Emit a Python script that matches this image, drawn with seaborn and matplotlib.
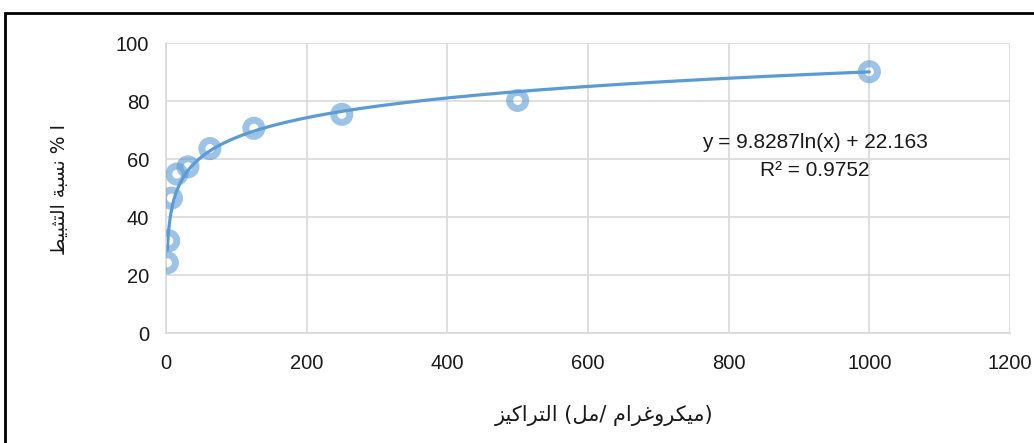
import numpy as np
import pandas as pd
import matplotlib
matplotlib.use("Agg")
import matplotlib.pyplot as plt
from matplotlib.patches import Rectangle
import seaborn as sns

# Concentration (µg/mL) and inhibition (%)
concentration = [1.95, 3.9, 7.8, 15.6, 31.25, 62.5, 125, 250, 500, 1000]
inhibition = [24.2, 31.8, 46.5, 54.8, 57.3, 63.6, 70.6, 75.4, 80.2, 90.1]

# Logarithmic trendline coefficients
slope = 9.8287
intercept = 22.163
r_squared = 0.9752

x_ticks = [0, 200, 400, 600, 800, 1000, 1200]
y_ticks = [0, 20, 40, 60, 80, 100]

# --- minimal Arabic shaping into presentation forms (visual order) ---
FORMS = {  # isolated, final, initial, medial
    "ا": ("\uFE8D", "\uFE8E", None, None),
    "ب": ("\uFE8F", "\uFE90", "\uFE91", "\uFE92"),
    "ة": ("\uFE93", "\uFE94", None, None),
    "ت": ("\uFE95", "\uFE96", "\uFE97", "\uFE98"),
    "ث": ("\uFE99", "\uFE9A", "\uFE9B", "\uFE9C"),
    "ر": ("\uFEAD", "\uFEAE", None, None),
    "ز": ("\uFEAF", "\uFEB0", None, None),
    "س": ("\uFEB1", "\uFEB2", "\uFEB3", "\uFEB4"),
    "ط": ("\uFEC1", "\uFEC2", "\uFEC3", "\uFEC4"),
    "غ": ("\uFECD", "\uFECE", "\uFECF", "\uFED0"),
    "ك": ("\uFED9", "\uFEDA", "\uFEDB", "\uFEDC"),
    "ل": ("\uFEDD", "\uFEDE", "\uFEDF", "\uFEE0"),
    "م": ("\uFEE1", "\uFEE2", "\uFEE3", "\uFEE4"),
    "ن": ("\uFEE5", "\uFEE6", "\uFEE7", "\uFEE8"),
    "و": ("\uFEED", "\uFEEE", None, None),
    "ي": ("\uFEF1", "\uFEF2", "\uFEF3", "\uFEF4"),
}


def shape(word):
    out = []
    n = len(word)
    for i, ch in enumerate(word):
        iso, fin, ini, med = FORMS[ch]
        prev_joins = i > 0 and FORMS[word[i - 1]][2] is not None
        next_joins = i < n - 1 and ini is not None
        if prev_joins and next_joins:
            out.append(med)
        elif prev_joins:
            out.append(fin)
        elif next_joins:
            out.append(ini)
        else:
            out.append(iso)
    return "".join(reversed(out))


# labels laid out left-to-right in display order
x_label = shape("التراكيز") + " (" + shape("مل") + "/ " + shape("ميكروغرام") + ")"
y_label = shape("التثبيط") + " " + shape("نسبة") + " % I"

df = pd.DataFrame({"conc": concentration, "inh": inhibition})
x_fit = np.geomspace(min(concentration), max(concentration), 400)
fit = pd.DataFrame({"conc": x_fit, "inh": slope * np.log(x_fit) + intercept})

sns.set_theme(style="whitegrid")
plt.rcParams["font.family"] = ["Liberation Sans", "DejaVu Sans"]

fig = plt.figure(figsize=(10.34, 4.43), dpi=100)
ax = fig.add_axes([0.1605, 0.2483, 0.8163, 0.6546])

blue = "#5B9BD5"
sns.lineplot(data=fit, x="conc", y="inh", ax=ax, color=blue, linewidth=2.3, zorder=2)
sns.scatterplot(data=df, x="conc", y="inh", ax=ax, s=135, facecolor="none",
                edgecolor=blue, linewidth=5.0, alpha=0.6, zorder=3)

ax.set_xlim(0, 1200)
ax.set_ylim(0, 100)
ax.set_xticks(x_ticks)
ax.set_yticks(y_ticks)
ax.tick_params(axis="both", length=0, labelsize=14.5, colors="#1a1a1a")
ax.tick_params(axis="x", pad=15)
ax.tick_params(axis="y", pad=12)
ax.grid(True, color="#D9D9D9", linewidth=1.2)
for side in ["top", "right"]:
    ax.spines[side].set_visible(False)
for side in ["left", "bottom"]:
    ax.spines[side].set_color("#D9D9D9")
    ax.spines[side].set_linewidth(1.2)
ax.set_facecolor("white")

ax.set_xlabel("")
ax.set_ylabel("")
fig.text(0.584, 0.062, x_label, ha="center", va="center", fontsize=15,
         family="DejaVu Sans", color="#1a1a1a")
fig.text(0.058, 0.573, y_label, ha="center", va="center", fontsize=13.5,
         rotation=90, family="DejaVu Sans", color="#1a1a1a")

ax.text(922, 65.8, f"y = {slope}ln(x) + {intercept}", ha="center", va="center",
        fontsize=15, color="#1a1a1a")
ax.text(922, 56.0, f"R² = {r_squared}", ha="center", va="center",
        fontsize=15, color="#1a1a1a")

# outer chart frame
fig.patches.append(Rectangle((0.005, -0.05), 1.2, 1.0207, transform=fig.transFigure,
                             fill=False, edgecolor="black", linewidth=2.0))

fig.savefig("out.png", dpi=100, facecolor="white")
